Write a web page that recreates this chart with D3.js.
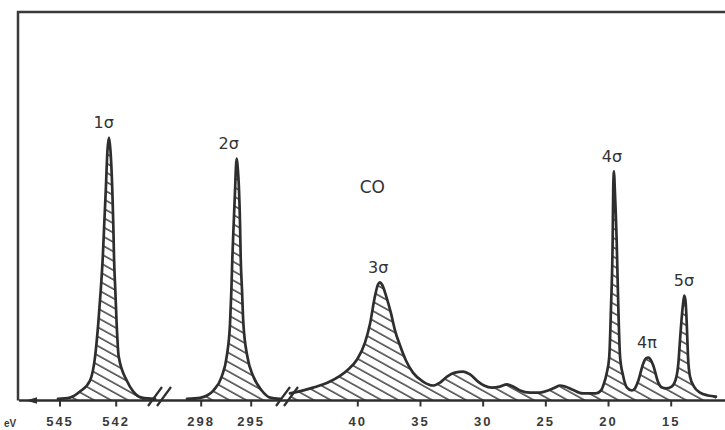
<!DOCTYPE html>
<html>
<head>
<meta charset="utf-8">
<script src="https://cdn.jsdelivr.net/npm/d3@7"></script>
<style>
  body { margin: 0; background: #fff; }
  svg { display: block; }
  .tick text { font-family: "Liberation Sans", Arial, sans-serif; font-weight: bold; font-size: 13px; letter-spacing: 2px; fill: #3a3a3a; }
  .tick line { stroke: #333; stroke-width: 2; }
  .peak-label { font-family: "DejaVu Sans", sans-serif; font-size: 16px; fill: #333; }
</style>
</head>
<body>
<svg id="chart" width="725" height="430"></svg>
<script>
// CO photoelectron spectrum, three broken energy ranges (eV, decreasing to the right)
var ticks1 = [545, 542];
var ticks2 = [298, 295];
var ticks3 = [40, 35, 30, 25, 20, 15];

// O 1s region
var energy1 = [545.08, 544.44, 543.91, 543.37, 543.10, 542.93, 542.80, 542.69, 542.61, 542.53, 542.44,
  542.36, 542.28, 542.18, 542.13, 542.09, 542.02, 541.95, 541.84, 541.41, 541.06, 540.60, 539.90];
var counts1 = [0.6, 1.1, 3.4, 7.6, 16.7, 29.3, 41.8, 54.4, 67.3, 79.8, 95.1,
  100, 95.1, 79.8, 67.3, 54.4, 41.8, 29.3, 16.7, 7.6, 3.4, 1.1, 0.6];

// C 1s region
var energy2 = [298.82, 298.04, 297.62, 297.24, 296.74, 296.44, 296.24, 296.16, 296.10, 296.02, 295.94, 295.88,
  295.84, 295.79, 295.70, 295.64, 295.60, 295.52, 295.44, 295.20, 294.84, 294.34, 293.84, 293.24];
var counts2 = [0.6, 1.0, 1.9, 3.8, 9.1, 16.7, 29.3, 41.8, 54.4, 67.3, 79.8, 89.4,
  92.0, 89.4, 79.8, 67.3, 54.4, 41.8, 29.3, 16.7, 9.1, 3.8, 1.1, 0.6];

// valence region
var energy3 = [45.37, 43.53, 42.18, 40.82, 40.02, 39.38, 38.98, 38.58, 38.35, 38.19, 38.03, 37.71, 37.31,
  36.99, 36.59, 36.12, 35.56, 34.76, 33.96, 33.40, 32.84, 32.21, 31.57, 31.01, 30.37, 29.89, 29.25,
  28.62, 28.06, 27.58, 27.02, 26.22, 25.43, 24.79, 24.23, 23.83, 23.43, 22.87, 22.00, 20.96,
  20.56, 20.32, 20.11, 19.90, 19.76, 19.63, 19.58, 19.52, 19.47, 19.31, 19.18, 19.04, 18.80,
  18.49, 18.09, 17.85, 17.58, 17.19, 16.97, 16.79, 16.61, 16.39, 15.99, 15.69, 15.37, 14.92,
  14.54, 14.39, 14.26, 14.04, 13.92, 13.82, 13.72, 13.62, 13.46, 13.14, 12.66, 12.02, 11.39];
var counts3 = [2.7, 4.9, 7.2, 11.4, 15.6, 22.1, 29.3, 39.9, 44.1, 44.9, 44.1, 39.9, 33.1,
  26.6, 20.9, 15.2, 10.6, 7.2, 5.7, 6.8, 9.1, 10.6, 11.0, 9.9, 7.2, 5.7, 4.9,
  5.3, 6.1, 5.3, 3.8, 3.0, 3.0, 3.8, 4.9, 5.7, 5.3, 4.2, 2.7, 2.7,
  3.8, 6.5, 10.3, 16.7, 35.7, 60.8, 81.7, 87.1, 81.7, 60.8, 35.7, 16.7, 9.5,
  4.9, 3.8, 4.6, 7.6, 14.1, 16.0, 16.3, 15.6, 13.3, 6.8, 4.9, 4.6, 5.3,
  9.1, 14.1, 22.8, 35.7, 39.9, 38.0, 29.3, 16.7, 9.1, 5.3, 3.0, 1.9, 1.5];

var peakNames = ['1σ', '2σ', '3σ', '4σ', '4π', '5σ'];
var peakEnergy = [542.64, 296.32, 38.33, 19.68, 16.89, 13.94];

var svg = d3.select('#chart');
var baseY = 400.5;
var y = d3.scaleLinear().domain([0, 100]).range([baseY, 137.5]);

var segments = [
  { x: d3.scaleLinear().domain([545, 542]).range([59.5, 115.7]), energy: energy1, counts: counts1, ticks: ticks1 },
  { x: d3.scaleLinear().domain([298, 295]).range([200.7, 250.7]), energy: energy2, counts: counts2, ticks: ticks2 },
  { x: d3.scaleLinear().domain([40, 15]).range([357.3, 670.7]), energy: energy3, counts: counts3, ticks: ticks3 }
];

var defs = svg.append('defs');
defs.append('pattern')
  .attr('id', 'hatch')
  .attr('patternUnits', 'userSpaceOnUse')
  .attr('width', 20)
  .attr('height', 8.2)
  .attr('patternTransform', 'rotate(29)')
  .append('line')
  .attr('x1', 0).attr('y1', 1).attr('x2', 20).attr('y2', 1)
  .attr('stroke', '#333')
  .attr('stroke-width', 1.4);

var ink = '#2e2e2e';

// frame (left and top)
svg.append('path')
  .attr('d', 'M18,' + baseY + 'V12H725')
  .attr('fill', 'none')
  .attr('stroke', '#3a3a3a')
  .attr('stroke-width', 2.5);

segments.forEach(function (seg) {
  var pts = seg.energy.map(function (e, i) { return [e, seg.counts[i]]; });

  var area = d3.area()
    .x(function (d) { return seg.x(d[0]); })
    .y0(baseY)
    .y1(function (d) { return y(d[1]); })
    .curve(d3.curveMonotoneX);

  var line = d3.line()
    .x(function (d) { return seg.x(d[0]); })
    .y(function (d) { return y(d[1]); })
    .curve(d3.curveMonotoneX);

  svg.append('path').datum(pts).attr('d', area).attr('fill', 'url(#hatch)');
  svg.append('path').datum(pts).attr('d', line)
    .attr('fill', 'none')
    .attr('stroke', ink)
    .attr('stroke-width', 2.7)
    .attr('stroke-linejoin', 'round')
    .attr('stroke-linecap', 'round');

  var ax = svg.append('g')
    .attr('transform', 'translate(0,' + baseY + ')')
    .call(d3.axisBottom(seg.x).tickValues(seg.ticks).tickSize(6).tickPadding(10).tickFormat(d3.format('d')));
  ax.select('.domain').remove();
});

// energy axis line with arrow
svg.append('line')
  .attr('x1', 19).attr('x2', 725).attr('y1', baseY).attr('y2', baseY)
  .attr('stroke', ink).attr('stroke-width', 2.4);
svg.append('path')
  .attr('d', 'M26,' + baseY + 'L37,' + (baseY - 3.2) + 'L37,' + (baseY + 3.2) + 'Z')
  .attr('fill', ink);

// axis breaks
[148, 157, 276, 284].forEach(function (bx) {
  svg.append('line')
    .attr('x1', bx).attr('y1', 406).attr('x2', bx + 14).attr('y2', 387)
    .attr('stroke', ink).attr('stroke-width', 2.2);
});

svg.append('text')
  .attr('x', 4).attr('y', 427)
  .style('font-family', '"Liberation Sans", Arial, sans-serif')
  .style('font-weight', 'bold')
  .style('font-size', '10px')
  .style('fill', '#3a3a3a')
  .text('eV');

// peak labels placed above the local maximum
peakNames.forEach(function (name, i) {
  var e = peakEnergy[i];
  var seg = segments.filter(function (s) {
    var d = s.x.domain();
    return e <= Math.max(d[0], d[1]) + 6 && e >= Math.min(d[0], d[1]) - 6;
  })[0];
  var top = 0;
  seg.energy.forEach(function (en, j) {
    if (Math.abs(en - e) < 0.5) top = Math.max(top, seg.counts[j]);
  });
  svg.append('text')
    .attr('class', 'peak-label')
    .attr('x', seg.x(e))
    .attr('y', y(top) - 15)
    .attr('dy', '0.35em')
    .attr('text-anchor', 'middle')
    .text(name);
});

svg.append('text')
  .attr('class', 'peak-label')
  .attr('x', segments[2].x(38.8))
  .attr('y', y(81))
  .attr('dy', '0.35em')
  .attr('text-anchor', 'middle')
  .style('font-size', '17px')
  .text('CO');
</script>
</body>
</html>
